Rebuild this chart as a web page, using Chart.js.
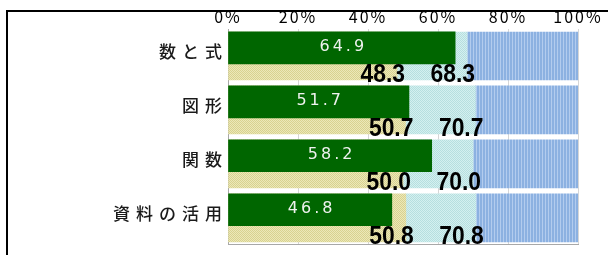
<!DOCTYPE html>
<html>
<head>
<meta charset="utf-8">
<script src="https://cdn.jsdelivr.net/npm/chart.js@4"></script>
<style>
  html, body { margin: 0; padding: 0; background: #fff; overflow: hidden; }
  #wrap { position: relative; width: 608px; height: 255px; }
  #frame { position: absolute; left: 6px; top: 10px; width: 700px; height: 300px;
           border-top: 2px solid #000; border-left: 2px solid #000; }
  canvas { position: absolute; left: 0; top: 0; }
</style>
</head>
<body>
<div id="wrap"><div id="frame"></div><canvas id="chart" width="608" height="255"></canvas></div>
<script>
// ── DATA ─────────────────────────────────────────────────────────────────────
const categories = ['数と式', '図形', '関数', '資料の活用'];
const schoolRate = [64.9, 51.7, 58.2, 46.8];   // dark green bar
const lowerCut   = [48.3, 50.7, 50.0, 50.8];   // end of yellow band
const upperCut   = [68.3, 70.7, 70.0, 70.8];   // end of cyan band
const tickStep   = 20;
const axisMax    = 100;

// ── PATTERNS ─────────────────────────────────────────────────────────────────
function makePattern(w, h, paint) {
  const c = document.createElement('canvas');
  c.width = w; c.height = h;
  const g = c.getContext('2d');
  paint(g);
  return g.createPattern(c, 'repeat');
}

const yellowFill = makePattern(2, 2, g => {
  g.fillStyle = '#ece8b8'; g.fillRect(0, 0, 2, 2);
  g.fillStyle = '#d8d290'; g.fillRect(0, 0, 1, 1); g.fillRect(1, 1, 1, 1);
});
const cyanFill = makePattern(2, 2, g => {
  g.fillStyle = '#d4f0f0'; g.fillRect(0, 0, 2, 2);
  g.fillStyle = '#b6dfdf'; g.fillRect(0, 0, 1, 1); g.fillRect(1, 1, 1, 1);
});
const blueFill = makePattern(3, 1, g => {
  g.fillStyle = '#8cb1e1'; g.fillRect(0, 0, 3, 1);
  g.fillStyle = '#b3ccee'; g.fillRect(2, 0, 1, 1);
});

// ── HELPERS ──────────────────────────────────────────────────────────────────
// letterSpacing (and a small vertical nudge) for one scale's labels only
function spaceLabels(scale, px, dy = 0) {
  if (scale._spaced) return;
  const orig = scale.drawLabels.bind(scale);
  scale.drawLabels = function (area) {
    const c = this.ctx;
    const prev = c.letterSpacing;
    c.save();
    c.translate(0, dy);
    c.letterSpacing = px;
    orig(area);
    c.restore();
    c.letterSpacing = prev;
  };
  scale._spaced = true;
}

const band = (from, to, fill) => ({
  data: from.map((f, i) => [f, to[i]]),
  backgroundColor: fill,
  yAxisID: 'y',
  grouped: false,
  barThickness: 48,
  order: 1,
});

const valueLabels = {
  id: 'valueLabels',
  afterUpdate(chart) {
    spaceLabels(chart.scales.y, '6px', -4);
    spaceLabels(chart.scales.x, '2px');
  },
  afterDatasetsDraw(chart) {
    const ctx = chart.ctx;
    ctx.save();
    ctx.font = '16px "DejaVu Sans"';
    ctx.fillStyle = '#eef2ee';
    ctx.textAlign = 'center';
    ctx.textBaseline = 'middle';
    ctx.letterSpacing = '3px';
    chart.getDatasetMeta(0).data.forEach((bar, i) => {
      ctx.fillText(schoolRate[i].toFixed(1), (bar.base + bar.x) / 2 + 1.5, bar.y - 1);
    });
    ctx.letterSpacing = '0px';
    ctx.font = 'bold 26px "Liberation Sans"';
    ctx.fillStyle = '#000';
    ctx.textAlign = 'right';
    ctx.textBaseline = 'alphabetic';
    [[1, lowerCut], [2, upperCut]].forEach(([di, vals]) => {
      chart.getDatasetMeta(di).data.forEach((bar, i) => {
        const x = bar.x + 8, y = bar.y + bar.height / 2 + 2;
        ctx.save();
        ctx.translate(x, y);
        ctx.scale(0.88, 1);
        ctx.fillText(vals[i].toFixed(1), 0, 0);
        ctx.restore();
      });
    });
    ctx.restore();
  },
};

// ── CHART ────────────────────────────────────────────────────────────────────
new Chart(document.getElementById('chart'), {
  type: 'bar',
  data: {
    labels: categories,
    datasets: [
      {
        data: schoolRate.map((v, i) => ({ x: v, y: i })),
        backgroundColor: '#006600',
        yAxisID: 'yg',
        grouped: false,
        barThickness: 32,
        order: 0,
      },
      band(categories.map(() => 0), lowerCut, yellowFill),
      band(lowerCut, upperCut, cyanFill),
      band(upperCut, categories.map(() => axisMax), blueFill),
    ],
  },
  options: {
    indexAxis: 'y',
    responsive: false,
    animation: false,
    layout: { padding: { left: 0, top: 0, right: 30, bottom: 9 } },
    plugins: { legend: { display: false }, tooltip: { enabled: false } },
    scales: {
      x: {
        type: 'linear', position: 'top', min: 0, max: axisMax,
        grid: { color: '#d6d6d6', drawTicks: false },
        border: { display: false },
        ticks: {
          stepSize: tickStep, padding: 2, color: '#000',
          font: { family: '"Noto Sans CJK JP"', size: 16 },
          callback: v => v + '%',
        },
        afterFit: s => { s.height = 29; },
      },
      x2: {
        type: 'linear', position: 'bottom', min: 0, max: axisMax,
        grid: { display: false, drawTicks: false },
        border: { display: true, color: '#a8a8a8' },
        ticks: { display: false },
        afterFit: s => { s.height = 0; },
      },
      y: {
        type: 'category',
        grid: { display: false, drawTicks: false },
        border: { display: true, color: '#a8a8a8' },
        ticks: {
          padding: 0, color: '#1a1a1a',
          font: { family: '"Noto Sans CJK JP"', size: 17, weight: '500' },
        },
        afterFit: s => { s.width = 228; },
      },
      yg: {
        type: 'linear', display: false, reverse: true, offset: false,
        min: -0.35, max: categories.length - 0.35,
        ticks: { stepSize: 1 },
      },
    },
  },
  plugins: [valueLabels],
});
</script>
</body>
</html>
